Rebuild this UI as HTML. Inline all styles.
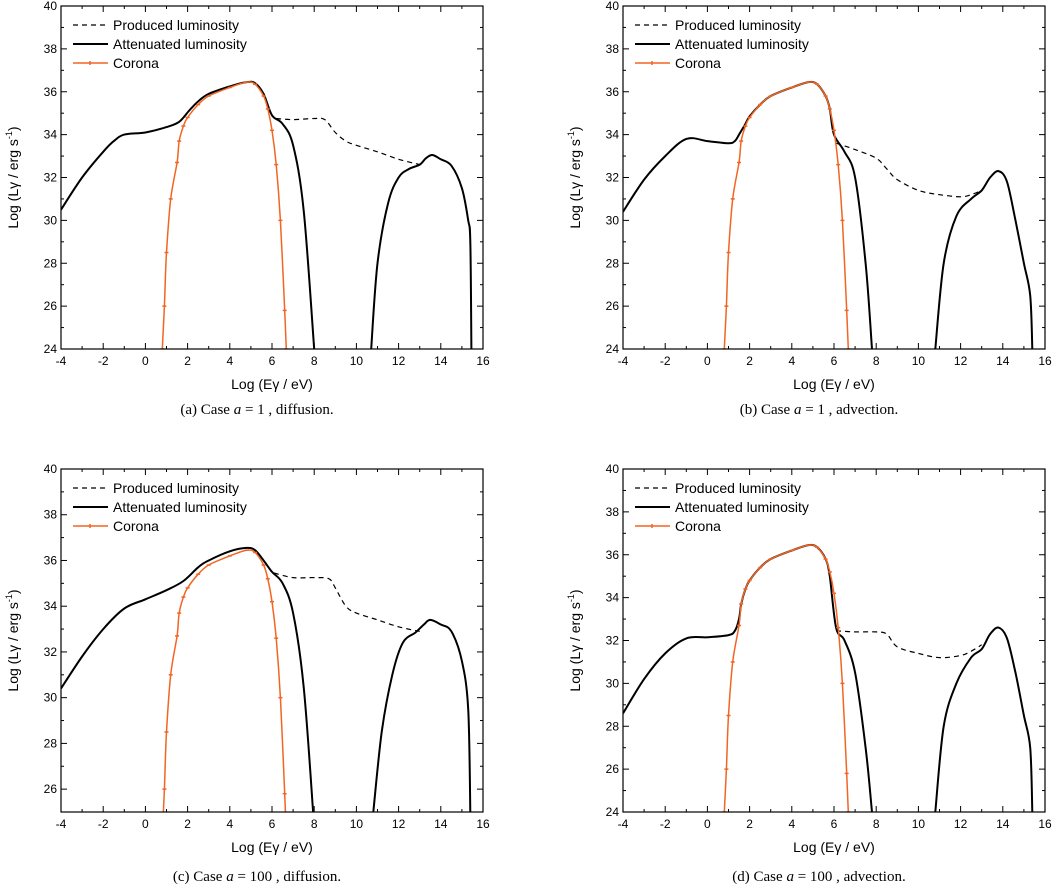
<!DOCTYPE html>
<html><head><meta charset="utf-8"><style>
html,body{margin:0;padding:0;background:#fff;width:1052px;height:886px;overflow:hidden}
svg text{font-family:"Liberation Sans",sans-serif}
.cap{font-family:"Liberation Serif",serif;font-size:15px}
</style></head><body>
<svg id="fig" width="1052" height="886" viewBox="0 0 1052 886" xmlns="http://www.w3.org/2000/svg"></svg>
<script>
// ---- data ----
const xTicks = [-4,-2,0,2,4,6,8,10,12,14,16];
const yTicksA = [24,26,28,30,32,34,36,38,40];
const yTicksC = [26,28,30,32,34,36,38,40];
const captionPre = ["(a)  Case ","(b)  Case ","(c)  Case ","(d)  Case "];
const captionPost = [" = 1 , diffusion."," = 1 , advection."," = 100 , diffusion."," = 100 , advection."];
const legendLabels = ["Produced luminosity","Attenuated luminosity","Corona"];

const coronaX = [0.8,0.9,1.0,1.2,1.5,1.6,1.8,2.0,2.5,3.0,4.0,4.8,5.2,5.6,5.8,6.0,6.2,6.4,6.6,6.68];
const coronaY = [24,26,28.5,31,32.7,33.7,34.4,34.8,35.4,35.8,36.2,36.45,36.35,35.8,35.2,34.2,32.6,30,25.8,24];

const aLowX = [-4,-3,-2,-1.5,-1,0,1,1.6,2.1,2.5,3,4,4.8,5.2,5.6,6,6.5,7,7.5,8];
const aLowY = [30.5,32,33.2,33.7,34.0,34.1,34.35,34.6,35.15,35.55,35.9,36.25,36.45,36.4,35.9,34.9,34.5,33.5,30.5,24];
const aHighX = [10.7,11,11.5,12,12.5,13,13.3,13.6,14,14.5,15,15.3,15.4,15.45];
const aHighY = [24,28,30.8,32,32.4,32.6,32.9,33.05,32.85,32.55,31.5,30.0,29,24];
const aProdX = [6.2,7,8,8.5,9,9.5,10,11,12,13];
const aProdY = [34.75,34.7,34.75,34.7,34.1,33.7,33.5,33.2,32.85,32.6];

const bLowX = [-4,-3,-2,-1,0,1,1.3,1.5,1.8,2.0,2.5,3,4,4.8,5.2,5.6,5.8,6.0,6.5,7,7.5,7.8];
const bLowY = [30.4,31.9,33,33.8,33.7,33.6,33.7,34.0,34.5,34.85,35.4,35.8,36.2,36.45,36.35,35.8,35.2,34.0,33.2,32,28,24];
const bHighX = [10.8,11.2,11.8,12.5,13,13.4,13.8,14.2,14.6,15,15.3,15.4];
const bHighY = [24,28,30.2,31,31.4,32.0,32.3,31.8,30,28,26.5,24];
const bProdX = [6.1,7,8,8.5,9,10,11,12,12.5,13];
const bProdY = [33.6,33.3,32.9,32.4,31.9,31.4,31.2,31.1,31.2,31.4];

const cLowX = [-4,-3,-2,-1,0,1,1.8,2.5,3,4,4.8,5.2,5.6,6,6.5,7,7.5,7.95];
const cLowY = [30.4,31.8,33,33.9,34.3,34.7,35.1,35.7,36.0,36.4,36.55,36.45,36.0,35.5,35.0,33.7,30.5,25];
const cHighX = [10.8,11.2,11.7,12.2,12.8,13.2,13.5,14,14.5,15,15.3,15.4];
const cHighY = [25,28.5,31,32.4,32.85,33.2,33.4,33.2,32.9,31.6,29.5,25];
const cProdX = [6.1,7,8,8.7,9,9.5,10,11,12,13];
const cProdY = [35.45,35.25,35.25,35.2,34.8,34.0,33.7,33.4,33.1,32.9];

const dLowX = [-4,-3,-2,-1,0,1,1.3,1.5,1.6,1.8,2.0,2.5,3,4,4.8,5.2,5.6,5.8,6.1,6.5,7,7.5,7.8];
const dLowY = [28.6,30.2,31.4,32.1,32.15,32.25,32.45,33.0,33.7,34.4,34.8,35.4,35.8,36.2,36.45,36.35,35.8,35.0,32.6,32,30.5,27,24];
const dHighX = [10.8,11.2,11.8,12.5,13,13.4,13.8,14.2,14.6,15,15.3,15.4];
const dHighY = [24,28,30,31.2,31.6,32.3,32.6,32.1,30.5,28.5,27,24];
const dProdX = [6.1,7,8,8.5,9,10,11,12,12.5,13];
const dProdY = [32.45,32.4,32.4,32.3,31.7,31.4,31.2,31.3,31.5,31.8];

// ---- layout ----
const NS="http://www.w3.org/2000/svg";
const svg=document.getElementById('fig');
function mk(tag,attrs,parent){const e=document.createElementNS(NS,tag);for(const k in attrs)e.setAttribute(k,attrs[k]);(parent||svg).appendChild(e);return e;}
const panels=[
 {ox:0,top:6,bot:349,ymin:24,ymax:40,yt:yTicksA,low:[aLowX,aLowY],high:[aHighX,aHighY],prod:[aProdX,aProdY],capY:414,xtY:389,name:'panel-a'},
 {ox:562,top:6,bot:349,ymin:24,ymax:40,yt:yTicksA,low:[bLowX,bLowY],high:[bHighX,bHighY],prod:[bProdX,bProdY],capY:414,xtY:389,name:'panel-b'},
 {ox:0,top:469,bot:812,ymin:25,ymax:40,yt:yTicksC,low:[cLowX,cLowY],high:[cHighX,cHighY],prod:[cProdX,cProdY],capY:881,xtY:852,name:'panel-c'},
 {ox:562,top:469,bot:812,ymin:24,ymax:40,yt:yTicksA,low:[dLowX,dLowY],high:[dHighX,dHighY],prod:[dProdX,dProdY],capY:881,xtY:852,name:'panel-d'}
];
function pathFrom(xs,ys,sx,sy){
  const P=xs.map((x,i)=>[sx(x),sy(ys[i])]);
  let d='M'+P[0][0].toFixed(1)+','+P[0][1].toFixed(1);
  for(let i=0;i<P.length-1;i++){
    const p0=P[i-1]||P[i],p1=P[i],p2=P[i+1],p3=P[i+2]||P[i+1];
    const c1=[p1[0]+(p2[0]-p0[0])/6,p1[1]+(p2[1]-p0[1])/6];
    const c2=[p2[0]-(p3[0]-p1[0])/6,p2[1]-(p3[1]-p1[1])/6];
    d+=' C'+c1[0].toFixed(1)+','+c1[1].toFixed(1)+' '+c2[0].toFixed(1)+','+c2[1].toFixed(1)+' '+p2[0].toFixed(1)+','+p2[1].toFixed(1);
  }
  return d;
}
panels.forEach((p,pi)=>{
  const L=61+p.ox,R=483+p.ox;
  const sx=x=>L+(x+4)/20*(R-L);
  const sy=y=>p.bot-(y-p.ymin)/(p.ymax-p.ymin)*(p.bot-p.top);
  const g=mk('g',{});
  
  
  const cid='clip'+pi;
  const cp=mk('clipPath',{id:cid},g);mk('rect',{x:L,y:p.top,width:R-L,height:p.bot-p.top},cp);
  for(let x=-4;x<=16;x++){
    const len=(x%2===0)?6:3;
    mk('line',{x1:sx(x),x2:sx(x),y1:p.bot,y2:p.bot-len,stroke:'#000','stroke-width':1},g);
    mk('line',{x1:sx(x),x2:sx(x),y1:p.top,y2:p.top+len,stroke:'#000','stroke-width':1},g);
  }
  for(let y=p.ymin;y<=p.ymax;y++){
    const len=(y%2===0)?6:3;
    mk('line',{x1:L,x2:L+len,y1:sy(y),y2:sy(y),stroke:'#000','stroke-width':1},g);
    mk('line',{x1:R,x2:R-len,y1:sy(y),y2:sy(y),stroke:'#000','stroke-width':1},g);
  }
  xTicks.forEach(x=>{const t=mk('text',{x:sx(x),y:p.bot+16,'text-anchor':'middle','font-size':12},g);t.textContent=x;
    });
  p.yt.forEach(y=>{const t=mk('text',{x:L-4,y:sy(y)+4,'text-anchor':'end','font-size':12},g);t.textContent=y;
    });
  const xt=mk('text',{x:(L+R)/2,y:p.xtY,'text-anchor':'middle','font-size':14},g);
  xt.textContent='Log (Eγ / eV)';
  
  const yc=(p.top+p.bot)/2;
  const yt=mk('text',{x:0,y:0,'text-anchor':'middle','font-size':14,transform:`translate(${p.ox+18},${yc}) rotate(-90)`},g);
  yt.innerHTML='Log (Lγ / erg s<tspan font-size="9" dy="-6">-1</tspan><tspan dy="6">)</tspan>';
  
  const sg=mk('g',{'clip-path':`url(#${cid})`},g);
  const pr=mk('path',{d:pathFrom(p.prod[0],p.prod[1],sx,sy),fill:'none',stroke:'#000','stroke-width':1.2,'stroke-dasharray':'5,4'},sg);
  
  const lo=mk('path',{d:pathFrom(p.low[0],p.low[1],sx,sy),fill:'none',stroke:'#000','stroke-width':2},sg);
  
  const hi=mk('path',{d:pathFrom(p.high[0],p.high[1],sx,sy),fill:'none',stroke:'#000','stroke-width':2},sg);
  
  const co=mk('path',{d:pathFrom(coronaX,coronaY,sx,sy),fill:'none',stroke:'#f26522','stroke-width':1.5},sg);
  
  coronaX.forEach((x,i)=>{const m=mk('line',{x1:sx(x)-2,x2:sx(x)+2,y1:sy(coronaY[i]),y2:sy(coronaY[i]),stroke:'#f26522','stroke-width':1.5},sg);
    });
  const fr=mk('rect',{x:L,y:p.top,width:R-L,height:p.bot-p.top,fill:'none',stroke:'#000','stroke-width':1.2},g);
  
  const ly=[p.top+19,p.top+38,p.top+57];
  const styles=[{stroke:'#000','stroke-dasharray':'5,4','stroke-width':1.2},{stroke:'#000','stroke-width':2},{stroke:'#f26522','stroke-width':1.5}];
  legendLabels.forEach((lab,i)=>{
    const lg=mk('g',{},g);
    
    mk('line',Object.assign({x1:L+12,x2:L+47,y1:ly[i],y2:ly[i]},styles[i]),lg);
    if(i===2) mk('line',{x1:L+29,x2:L+29,y1:ly[i]-2,y2:ly[i]+2,stroke:'#f26522','stroke-width':1.5},lg);
    const t=mk('text',{x:L+52,y:ly[i]+5,'font-size':14},lg);t.textContent=lab;
  });
  const c=mk('text',{x:(L+R)/2-15,y:p.capY,'text-anchor':'middle',class:'cap'},g);
  c.innerHTML=captionPre[pi]+'<tspan font-style="italic">a</tspan>'+captionPost[pi];
  
});
</script>
</body></html>
